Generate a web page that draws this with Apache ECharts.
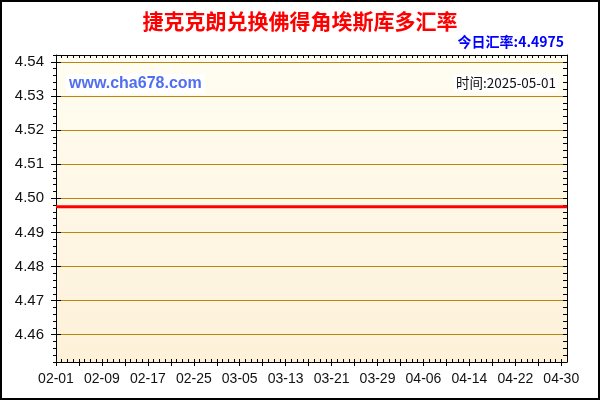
<!DOCTYPE html>
<html>
<head>
<meta charset="utf-8">
<script src="https://cdn.jsdelivr.net/npm/echarts@6/dist/echarts.min.js"></script>
<style>
html,body{margin:0;padding:0;background:#fff;}
#c{width:600px;height:400px;position:relative;}
#c:after{content:"";position:absolute;left:0;top:0;right:0;bottom:0;border:2px solid #000;pointer-events:none;}
</style>
</head>
<body>
<div id="c"></div>
<script>
const dates = [
 '02-01','02-02','02-03','02-04','02-05','02-06','02-07','02-08','02-09','02-10','02-11','02-12','02-13','02-14',
 '02-15','02-16','02-17','02-18','02-19','02-20','02-21','02-22','02-23','02-24','02-25','02-26','02-27','02-28',
 '03-01','03-02','03-03','03-04','03-05','03-06','03-07','03-08','03-09','03-10','03-11','03-12','03-13','03-14',
 '03-15','03-16','03-17','03-18','03-19','03-20','03-21','03-22','03-23','03-24','03-25','03-26','03-27','03-28',
 '03-29','03-30','03-31',
 '04-01','04-02','04-03','04-04','04-05','04-06','04-07','04-08','04-09','04-10','04-11','04-12','04-13','04-14',
 '04-15','04-16','04-17','04-18','04-19','04-20','04-21','04-22','04-23','04-24','04-25','04-26','04-27','04-28',
 '04-29','04-30','05-01'
];
const rates = [
 4.4975,4.4975,4.4975,4.4975,4.4975,4.4975,4.4975,4.4975,4.4975,4.4975,4.4975,4.4975,4.4975,4.4975,
 4.4975,4.4975,4.4975,4.4975,4.4975,4.4975,4.4975,4.4975,4.4975,4.4975,4.4975,4.4975,4.4975,4.4975,
 4.4975,4.4975,4.4975,4.4975,4.4975,4.4975,4.4975,4.4975,4.4975,4.4975,4.4975,4.4975,4.4975,4.4975,
 4.4975,4.4975,4.4975,4.4975,4.4975,4.4975,4.4975,4.4975,4.4975,4.4975,4.4975,4.4975,4.4975,4.4975,
 4.4975,4.4975,4.4975,
 4.4975,4.4975,4.4975,4.4975,4.4975,4.4975,4.4975,4.4975,4.4975,4.4975,4.4975,4.4975,4.4975,4.4975,
 4.4975,4.4975,4.4975,4.4975,4.4975,4.4975,4.4975,4.4975,4.4975,4.4975,4.4975,4.4975,4.4975,4.4975,
 4.4975,4.4975,4.4975
];
const yTickLabels = ['4.46','4.47','4.48','4.49','4.50','4.51','4.52','4.53','4.54'];
const titleText = '捷克克朗兑换佛得角埃斯库多汇率';
const todayLabel = '今日汇率:';
const todayRate = '4.4975';
const siteText = 'www.cha678.com';
const timeText = '时间:2025-05-01';

const Y_MIN = 4.452, Y_MAX = 4.542;
const latin = 'Liberation Sans, Arial, sans-serif';
const cjk = '"Noto Sans CJK SC", "Noto Sans", sans-serif';

const chart = echarts.init(document.getElementById('c'), null, {renderer: 'canvas'});
const labelFmt = v => {
  const s = v.toFixed(2);
  return (yTickLabels.indexOf(s) >= 0 && Math.abs(v - parseFloat(s)) < 1e-9) ? s : '';
};
const option = {
  backgroundColor: '#ffffff',
  animation: false,
  title: [
    {text: titleText, left: 'center', top: 11, padding: 0,
     textStyle: {color: '#ff0000', fontSize: 21, fontWeight: 'bold', fontFamily: cjk}},
    {text: todayLabel + todayRate, right: 36, top: 35, padding: 0,
     textStyle: {color: '#0000ff', fontSize: 14, fontWeight: 'bold', fontFamily: cjk}},
    {text: siteText, left: 66, top: 74, padding: [2, 3, 2, 3], backgroundColor: '#ffffff',
     textStyle: {color: '#506ef0', fontSize: 16, fontWeight: 'bold', fontFamily: latin}},
    {text: timeText, right: 42, top: 74, padding: [2, 2, 2, 2], backgroundColor: '#ffffff',
     textStyle: {color: '#111', fontSize: 13.5, fontWeight: 'normal', fontFamily: cjk}}
  ],
  grid: {
    left: 56, right: 33, top: 55, bottom: 38, show: true, borderWidth: 0,
    backgroundColor: new echarts.graphic.LinearGradient(0, 0, 0, 1, [
      {offset: 0, color: '#fffdf2'}, {offset: 1, color: '#fdf1d9'}
    ])
  },
  xAxis: [
    {type: 'category', data: dates, boundaryGap: false, position: 'bottom', z: 5,
     axisLine: {show: true, lineStyle: {color: '#000', width: 1}},
     axisTick: {show: true, interval: 3, inside: false, length: 4, lineStyle: {color: '#000'}},
     axisLabel: {show: true, interval: 7, margin: 10, color: '#111', fontSize: 14, fontFamily: latin},
     splitLine: {show: false}},
    {type: 'category', data: dates, boundaryGap: false, position: 'bottom', z: 5,
     axisLine: {show: false},
     axisTick: {show: true, interval: 0, inside: true, length: 3, lineStyle: {color: '#000'}},
     axisLabel: {show: false}, splitLine: {show: false}},
    {type: 'category', data: dates, boundaryGap: false, position: 'top', z: 5,
     axisLine: {show: true, lineStyle: {color: '#000', width: 1}},
     axisTick: {show: true, interval: 0, inside: true, length: 3, lineStyle: {color: '#000'}},
     axisLabel: {show: false}, splitLine: {show: false}}
  ],
  yAxis: [
    {type: 'value', min: Y_MIN, max: Y_MAX, interval: 0.002, position: 'left', offset: 0, z: 5,
     axisLine: {show: true, lineStyle: {color: '#000', width: 1}},
     axisTick: {show: true, inside: false, length: 3, lineStyle: {color: '#000'}},
     axisLabel: {show: false}, splitLine: {show: false}},
    {type: 'value', min: Y_MIN, max: Y_MAX, minInterval: 0.01, maxInterval: 0.01, splitNumber: 9,
     position: 'left', offset: 0, z: 1,
     axisLine: {show: false},
     axisTick: {show: true, inside: false, length: 5, lineStyle: {color: '#000'}},
     axisLabel: {show: true, showMinLabel: false, showMaxLabel: false, formatter: labelFmt,
                 margin: 12, color: '#111', fontSize: 15, fontFamily: latin},
     splitLine: {show: true, lineStyle: {color: '#b8860b', width: 1}}},
    {type: 'value', min: Y_MIN, max: Y_MAX, minInterval: 0.01, maxInterval: 0.01, splitNumber: 9,
     position: 'left', offset: 0, z: 5,
     axisLine: {show: false},
     axisTick: {show: true, inside: true, length: 5, lineStyle: {color: '#000'}},
     axisLabel: {show: false}, splitLine: {show: false}},
    {type: 'value', min: Y_MIN, max: Y_MAX, interval: 0.002, position: 'right', offset: 0, z: 5,
     axisLine: {show: true, lineStyle: {color: '#000', width: 1}},
     axisTick: {show: true, inside: true, length: 4, lineStyle: {color: '#000'}},
     axisLabel: {show: false}, splitLine: {show: false}}
  ],
  series: [
    {type: 'line', xAxisIndex: 0, yAxisIndex: 0, data: rates, showSymbol: false, symbol: 'none',
     z: 10, lineStyle: {color: '#ff0000', width: 3}, silent: true}
  ]
};
chart.setOption(option);
</script>
</body>
</html>
